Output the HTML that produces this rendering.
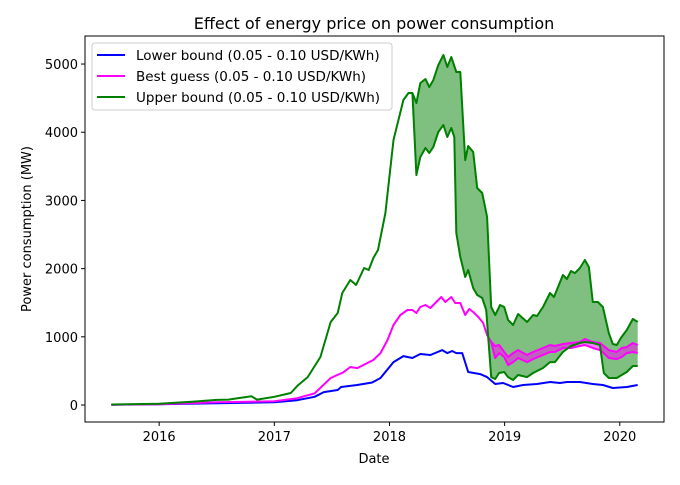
<!DOCTYPE html>
<html><head><meta charset="utf-8"><style>
body{margin:0;background:#fff}
svg text{font-family:"DejaVu Sans","Liberation Sans",sans-serif;fill:#000}
</style></head><body>
<svg id="chart" width="680" height="480" viewBox="0 0 680 480" xmlns="http://www.w3.org/2000/svg">
<rect x="0" y="0" width="680" height="480" fill="#fff"/>
<g id="fills"></g><g id="lines"></g>
<rect x="85" y="36" width="579" height="386" fill="none" stroke="#000" stroke-width="1"/>
<g id="ticks"></g>
<text x="374" y="29" font-size="16" text-anchor="middle">Effect of energy price on power consumption</text>
<text x="374" y="463" font-size="13" text-anchor="middle">Date</text>
<text x="31" y="229" font-size="13" text-anchor="middle" transform="rotate(-90 31 229)">Power consumption (MW)</text>
<g>
<rect x="92" y="43" width="300" height="67" rx="3" fill="#fff" fill-opacity="0.8" stroke="#ccc"/>
<g><line x1="97" y1="55" x2="125" y2="55" stroke="#0000ff" stroke-width="2"/><text x="136" y="60" font-size="13.5">Lower bound (0.05 - 0.10 USD/KWh)</text></g>
<g><line x1="97" y1="76" x2="125" y2="76" stroke="#ff00ff" stroke-width="2"/><text x="136" y="81" font-size="13.5">Best guess (0.05 - 0.10 USD/KWh)</text></g>
<g><line x1="97" y1="97" x2="125" y2="97" stroke="#008000" stroke-width="2"/><text x="136" y="102" font-size="13.5">Upper bound (0.05 - 0.10 USD/KWh)</text></g>
</g>
</svg>
<script>
const xTicks=[2016,2017,2018,2019,2020];
const yTicks=[0,1000,2000,3000,4000,5000];
const greenUpperT=[2015.584,2016,2016.3,2016.5,2016.6,2016.8,2016.85,2017,2017.143,2017.2,2017.29,2017.4,2017.49,2017.55,2017.59,2017.66,2017.71,2017.78,2017.82,2017.86,2017.9,2017.965,2018.035,2018.121,2018.165,2018.199,2018.234,2018.268,2018.312,2018.346,2018.381,2018.424,2018.468,2018.502,2018.537,2018.58,2018.615,2018.658,2018.684,2018.727,2018.762,2018.805,2018.848,2018.883,2018.918,2018.961,2018.996,2019.03,2019.074,2019.117,2019.195,2019.247,2019.281,2019.333,2019.394,2019.429,2019.506,2019.541,2019.576,2019.61,2019.654,2019.697,2019.732,2019.766,2019.81,2019.853,2019.905,2019.939,2019.974,2020.009,2020.061,2020.113,2020.156];
const greenUpperV=[8,20,50,75,80,130,80,120,176,280,410,704,1217,1349,1642,1833,1760,2009,1980,2155,2273,2815,3886,4472,4575,4575,4428,4721,4780,4663,4765,4985,5132,4956,5103,4883,4883,3592,3798,3710,3182,3109,2757,1437,1320,1466,1437,1246,1173,1334,1217,1320,1305,1437,1642,1584,1906,1848,1965,1935,2009,2126,2023,1510,1510,1437,1056,894,880,982,1100,1261,1217];
const greenLowerT=[2018.199,2018.234,2018.268,2018.312,2018.346,2018.381,2018.424,2018.468,2018.502,2018.537,2018.563,2018.58,2018.615,2018.658,2018.684,2018.727,2018.762,2018.805,2018.84,2018.857,2018.883,2018.918,2018.952,2018.996,2019.03,2019.074,2019.117,2019.195,2019.247,2019.333,2019.394,2019.437,2019.506,2019.576,2019.654,2019.697,2019.766,2019.827,2019.861,2019.905,2019.974,2020.017,2020.061,2020.113,2020.156];
const greenLowerV=[4575,3372,3636,3768,3695,3783,4003,4106,3930,4062,3930,2522,2170,1877,1980,1715,1613,1569,1393,997,410,381,469,484,410,367,440,410,469,543,630,630,777,865,909,924,909,880,469,396,396,440,484,572,572];
const bestUpperT=[2015.584,2016,2016.5,2017,2017.2,2017.35,2017.49,2017.6,2017.66,2017.72,2017.86,2017.922,2017.983,2018.035,2018.095,2018.156,2018.199,2018.234,2018.268,2018.312,2018.355,2018.398,2018.45,2018.485,2018.537,2018.571,2018.615,2018.658,2018.693,2018.727,2018.771,2018.814,2018.848,2018.883,2018.918,2018.952,2018.996,2019.03,2019.074,2019.117,2019.195,2019.247,2019.333,2019.394,2019.437,2019.506,2019.576,2019.654,2019.697,2019.766,2019.827,2019.861,2019.905,2019.974,2020.017,2020.061,2020.113,2020.156];
const bestUpperV=[5,12,40,55,100,170,396,480,557,542,660,762,953,1173,1320,1393,1393,1349,1437,1466,1422,1496,1584,1510,1584,1496,1496,1320,1408,1364,1290,1202,1026,924,865,880,777,704,762,806,733,777,836,880,865,894,909,924,968,924,909,865,806,777,836,850,909,880];
const bestLowerT=[2018.883,2018.918,2018.952,2018.996,2019.03,2019.074,2019.117,2019.195,2019.247,2019.333,2019.394,2019.437,2019.506,2019.576,2019.654,2019.697,2019.766,2019.827,2019.861,2019.905,2019.974,2020.017,2020.061,2020.113,2020.156];
const bestLowerV=[924,689,762,704,586,630,689,630,674,733,777,777,836,836,865,880,836,806,762,689,674,704,762,777,762];
const lowerT=[2015.584,2016,2016.5,2017,2017.2,2017.35,2017.43,2017.55,2017.58,2017.72,2017.85,2017.922,2018.035,2018.121,2018.199,2018.268,2018.355,2018.459,2018.502,2018.545,2018.58,2018.632,2018.684,2018.788,2018.848,2018.918,2018.987,2019.074,2019.16,2019.281,2019.394,2019.481,2019.541,2019.654,2019.766,2019.853,2019.939,2020.061,2020.156];
const lowerV=[5,10,25,40,70,120,190,220,264,293,330,396,630,718,689,748,733,806,762,792,762,762,484,454,410,308,323,264,293,308,337,323,337,337,308,293,249,264,293];

const X0=85,X1=664,Y0=36,Y1=422;
const tMin=2015.356,tMax=2020.384,vMin=-249,vMax=5411;
const sx=t=>X0+(t-tMin)/(tMax-tMin)*(X1-X0);
const sy=v=>Y1-(v-vMin)/(vMax-vMin)*(Y1-Y0);
const NS='http://www.w3.org/2000/svg';
const pts=(T,V)=>T.map((t,i)=>sx(t).toFixed(1)+','+sy(V[i]).toFixed(1));
const fills=document.getElementById('fills'),lines=document.getElementById('lines'),ticks=document.getElementById('ticks');
function band(T1,V1,T2,V2,color,op,name){
  const p=document.createElementNS(NS,'polygon');
  p.setAttribute('points',pts(T1,V1).concat(pts(T2,V2).reverse()).join(' '));
  p.setAttribute('fill',color);p.setAttribute('fill-opacity',op);
  
  
  fills.appendChild(p);
}
function line(T,V,color,name){
  const p=document.createElementNS(NS,'polyline');
  p.setAttribute('points',pts(T,V).join(' '));
  p.setAttribute('fill','none');p.setAttribute('stroke',color);p.setAttribute('stroke-width','2');p.setAttribute('stroke-linejoin','round');
  
  
  lines.appendChild(p);
}
const gi=greenUpperT.indexOf(greenLowerT[0]);
band(greenUpperT.slice(gi),greenUpperV.slice(gi),greenLowerT,greenLowerV,'#008000',0.5,'upper-bound-band');
const bi=bestUpperT.indexOf(bestLowerT[0]);
band(bestUpperT.slice(bi),bestUpperV.slice(bi),bestLowerT,bestLowerV,'#ff00ff',0.5,'best-guess-band');
line(lowerT,lowerV,'#0000ff','lower-bound-line');
line(bestUpperT,bestUpperV,'#ff00ff','best-guess-upper-line');
line(bestLowerT,bestLowerV,'#ff00ff','best-guess-lower-line');
line(greenUpperT,greenUpperV,'#008000','upper-bound-upper-line');
line(greenLowerT,greenLowerV,'#008000','upper-bound-lower-line');
xTicks.forEach(t=>{
  const x=sx(t);
  const l=document.createElementNS(NS,'line');
  l.setAttribute('x1',x);l.setAttribute('x2',x);l.setAttribute('y1',Y1);l.setAttribute('y2',Y1+4);l.setAttribute('stroke','#000');
  
  
  ticks.appendChild(l);
  const s=document.createElementNS(NS,'text');
  s.setAttribute('x',x);s.setAttribute('y',Y1+19);s.setAttribute('font-size','13');s.setAttribute('text-anchor','middle');s.textContent=t;
  
  
  ticks.appendChild(s);
});
yTicks.forEach(v=>{
  const y=sy(v);
  const l=document.createElementNS(NS,'line');
  l.setAttribute('x1',X0-4);l.setAttribute('x2',X0);l.setAttribute('y1',y);l.setAttribute('y2',y);l.setAttribute('stroke','#000');
  
  
  ticks.appendChild(l);
  const s=document.createElementNS(NS,'text');
  s.setAttribute('x',X0-7);s.setAttribute('y',y+5);s.setAttribute('font-size','13');s.setAttribute('text-anchor','end');s.textContent=v;
  
  
  ticks.appendChild(s);
});
</script>
</body></html>
